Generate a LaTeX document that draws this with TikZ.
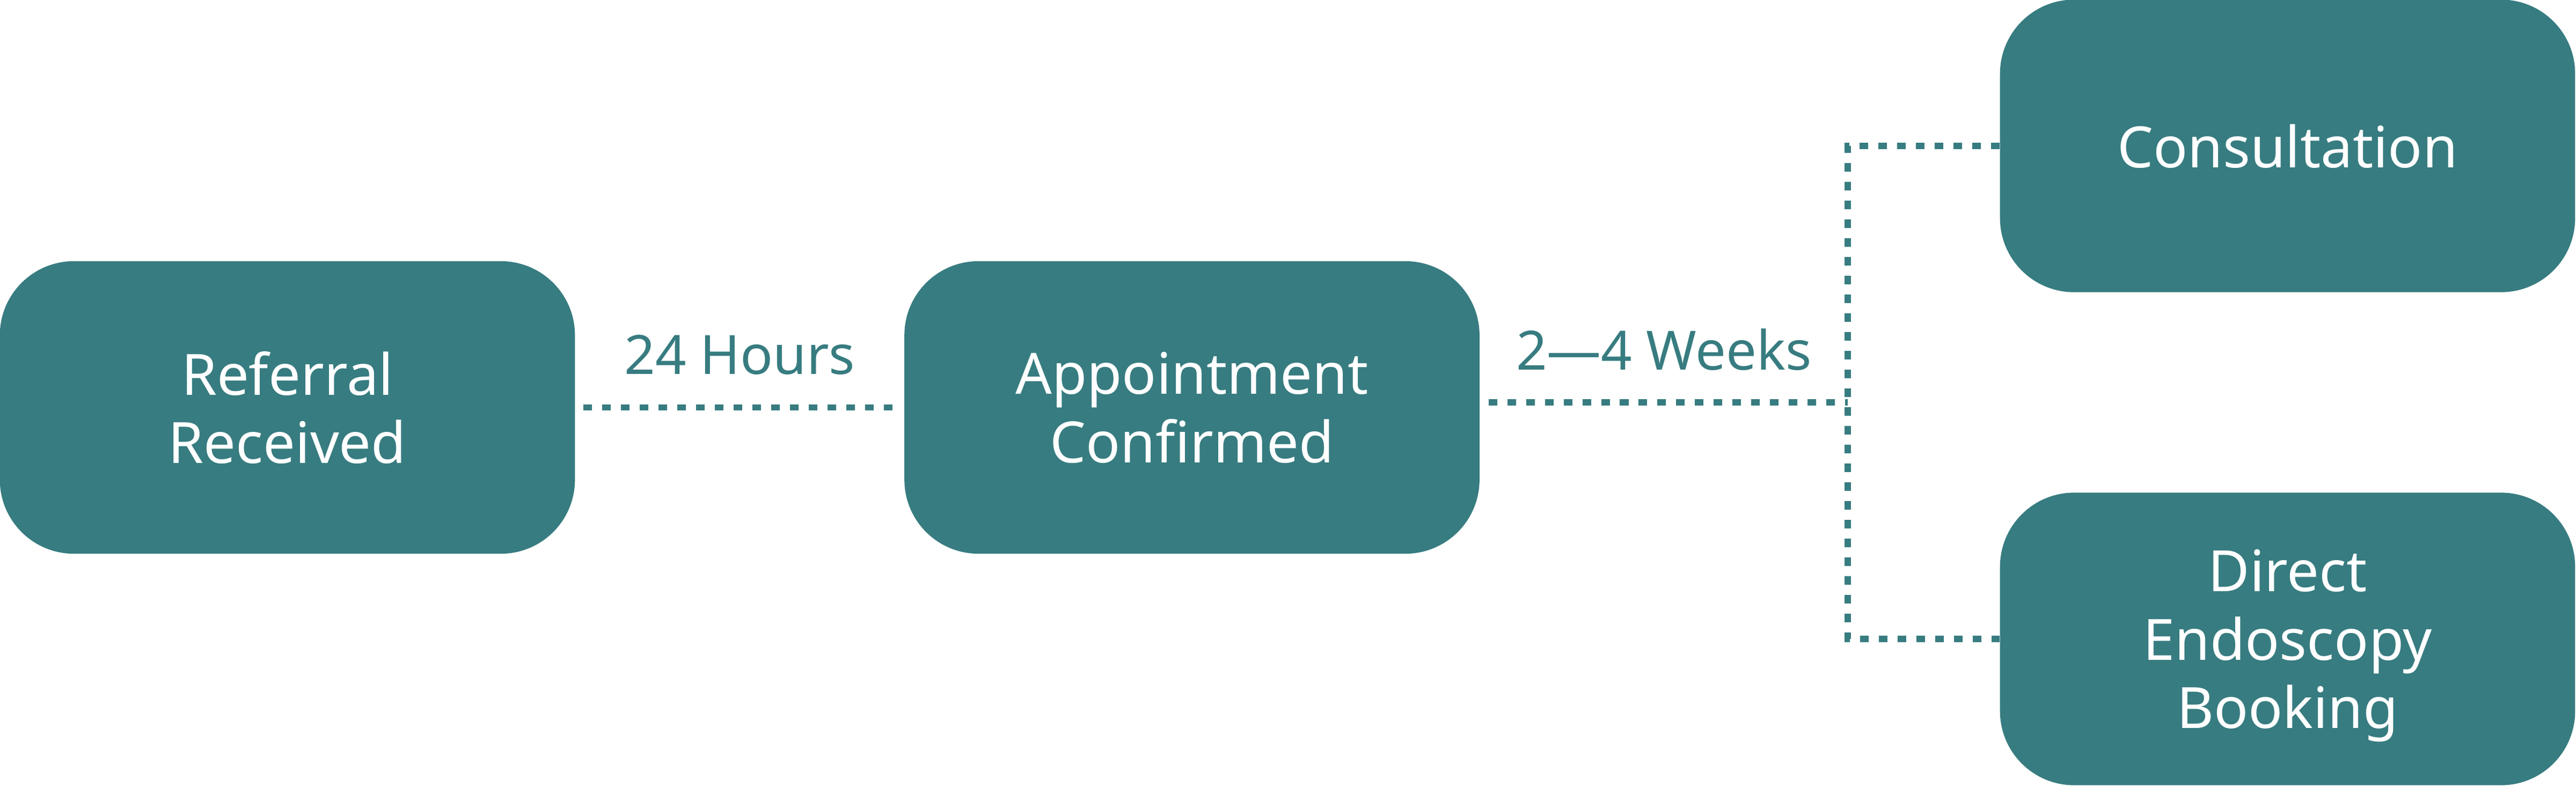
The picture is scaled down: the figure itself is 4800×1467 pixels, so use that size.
\documentclass[tikz,border=0pt]{standalone}
\usepackage{fontspec}
\setmainfont{Noto Sans}
\definecolor{pathteal}{RGB}{55,124,128}
\begin{document}
\begin{tikzpicture}[x=0.01cm, y=-0.01cm,
	  stage/.style={fill=pathteal, text=white, rounded corners=1.38cm, minimum width=10.71cm, minimum height=5.45cm, inner sep=0pt, text depth=0pt, align=center, font=\fontsize{30.2}{36.3}\selectfont},
	  wait/.style={text=pathteal, inner sep=0pt, font=\fontsize{28.7}{34}\selectfont},
	  link/.style={pathteal, line width=3.4pt, dash pattern=on 4.55pt off 5.4pt}]
	  \useasboundingbox (0,0) rectangle (4800,1467);

	  \node [ stage ] (referral) at (535.5,759.5) {Referral\\Received};
	  \node [ stage ] (appointment) at (2221,759.5) {Appointment\\Confirmed};
	  \node [ stage ] (consultation) at (4262.5,272) {Consultation};
	  \node [ stage ] (booking) at (4262.5,1191) {Direct\\Endoscopy\\Booking};

	  \coordinate (fork) at (3443,750);

	  \draw [ link, shorten <=0.15cm, shorten >=0.13cm ] (referral) -- node [ wait, above=0.55cm ] {24 Hours} (appointment);
	  \draw [ link, shorten <=0.16cm ] (appointment.east |- fork) -- node [ wait, above=0.53cm ] {2—4 Weeks} (fork);
	  \draw [ link ] (consultation.west) -| (fork) |- (booking.west);

	\end{tikzpicture}
\end{document}
